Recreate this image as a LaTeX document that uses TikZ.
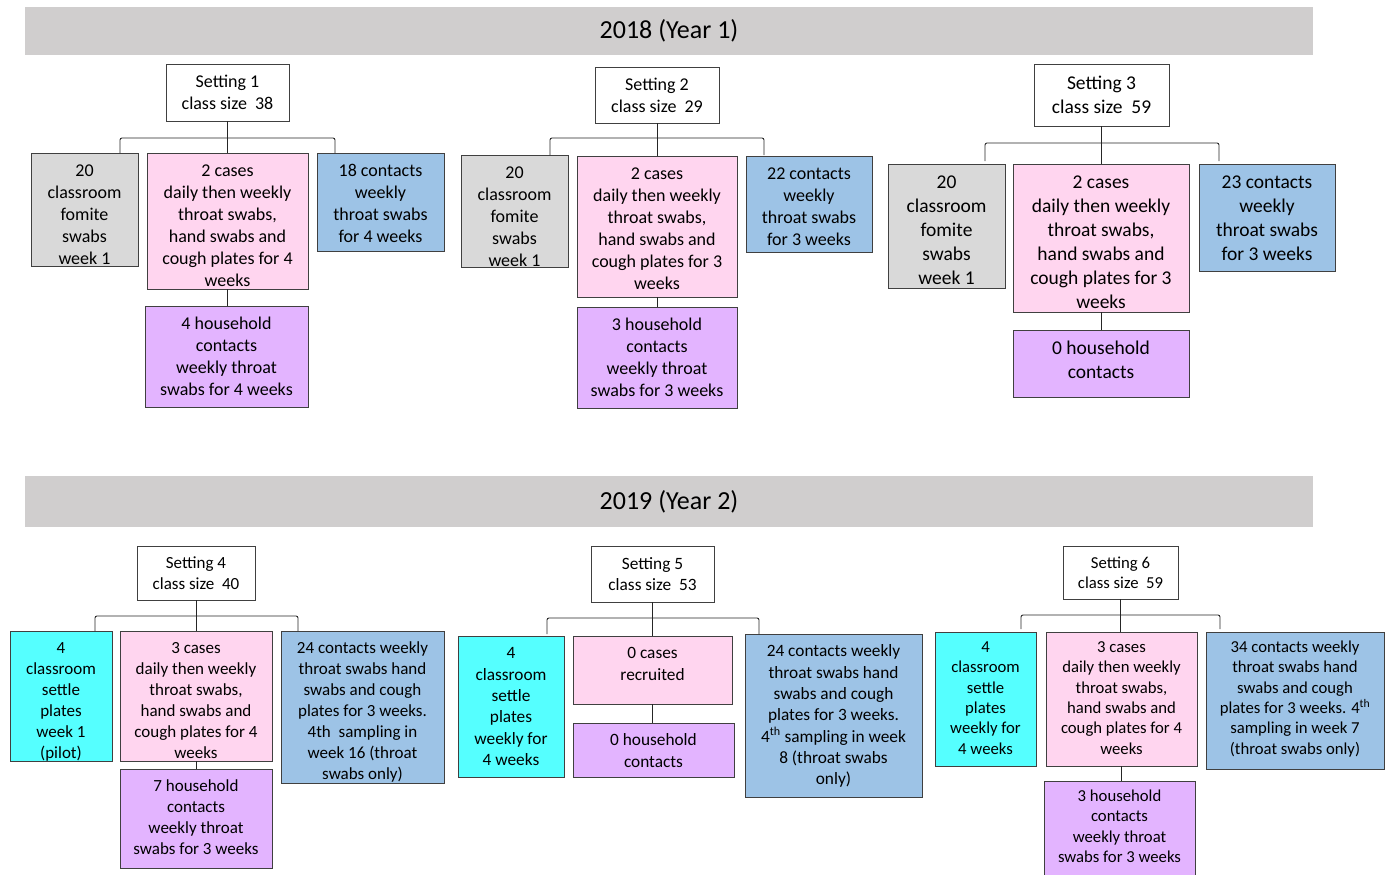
\documentclass[tikz,border=0pt]{standalone}
\usepackage{fontspec}
\setmainfont{Carlito}
\definecolor{bannerg}{HTML}{D0CECE}
\definecolor{grayf}{HTML}{D9D9D9}
\definecolor{pinkf}{HTML}{FFD5EF}
\definecolor{bluef}{HTML}{9DC3E6}
\definecolor{purplef}{HTML}{E3B4FF}
\definecolor{cyanf}{HTML}{55FFFF}
\newcommand\ftop{\fontsize{18}{22}\selectfont}
\newcommand\fthree{\fontsize{19.5}{24}\selectfont}
\newcommand\ffour{\fontsize{17}{21}\selectfont}
\newcommand\ffive{\fontsize{17.3}{21.3}\selectfont}
\newcommand\fsix{\fontsize{16.7}{20.4}\selectfont}
\newcommand\fsixb{\fsix\vspace*{-2pt}}
\tikzset{
  bx/.style={draw=black!75, line width=0.9pt, inner sep=0pt, outer sep=0pt},
  conn/.style={draw=black!85, line width=0.9pt, rounded corners=2pt},
  banner/.style={fill=bannerg, inner sep=0pt, font=\fontsize{26}{30}\selectfont},
}
% name x1 y1 x2 y2 fill font text
\newcommand\mybox[8]{%
  \node[bx, fill=#6] (#1) at ({(#2+#4)/2},{(#3+#5)/2})
  {\parbox[c][\dimexpr #5pt-#3pt\relax][t]{\dimexpr #4pt-#2pt\relax}{#7\centering\vspace*{8pt}\strut #8\par}};}
% name x1 y1 x2 y2 font text
\newcommand\myhdr[7]{%
  \node[bx, fill=white, align=center, font=#6, minimum width=\dimexpr #4pt-#2pt\relax,
        minimum height=\dimexpr #5pt-#3pt\relax] (#1) at ({(#2+#4)/2},{(#3+#5)/2}) {#7};}
\begin{document}
\begin{tikzpicture}[x=1pt,y=-1pt]
\useasboundingbox (0,0) rectangle (1389,875);
% banners
\node[banner, minimum width=1288pt, minimum height=48pt] (yr1) at (669,31) {2018 (Year 1)};
\node[banner, minimum width=1288pt, minimum height=51pt] (yr2) at (669,501.5) {2019 (Year 2)};

% ---------- Setting 1
\myhdr{h1}{166}{64}{289}{121}{\ftop}{Setting 1\\class size\ \ 38}
\mybox{g1}{31}{153}{138}{266}{grayf}{\ftop}{20\\classroom\\fomite\\swabs\\week 1}
\mybox{p1}{147}{153}{308}{289}{pinkf}{\ftop}{2 cases\\daily then weekly\\throat swabs,\\hand swabs and\\cough plates for 4\\weeks}
\mybox{b1}{317}{153}{444}{251}{bluef}{\ftop}{18 contacts\\weekly\\throat swabs\\for 4 weeks}
\mybox{u1}{145}{306}{308}{407}{purplef}{\ftop}{4 household\\contacts\\weekly throat\\swabs for 4 weeks}
\coordinate (l1) at (120,153); \coordinate (r1) at (335,153); \coordinate (m1) at (229,138);
\draw[conn] (l1) |- (m1) -| (r1);
\draw[conn] (h1.south) -- (h1.south |- p1.north);
\draw[conn] (p1.south) -- (p1.south |- u1.north);

% ---------- Setting 2
\myhdr{h2}{595}{67}{719}{123}{\ftop}{Setting 2\\class size\ \ 29}
\mybox{g2}{461}{155}{568}{267}{grayf}{\ftop}{20\\classroom\\fomite\\swabs\\week 1}
\mybox{p2}{577}{156}{737}{297}{pinkf}{\ftop}{2 cases\\daily then weekly\\throat swabs,\\hand swabs and\\cough plates for 3\\weeks}
\mybox{b2}{746}{156}{872}{252}{bluef}{\ftop}{22 contacts\\weekly\\throat swabs\\for 3 weeks}
\mybox{u2}{577}{307}{737}{408}{purplef}{\ftop}{3 household\\contacts\\weekly throat\\swabs for 3 weeks}
\coordinate (l2) at (550,155); \coordinate (r2) at (764,155); \coordinate (m2) at (659,138);
\draw[conn] (l2) |- (m2) -| (r2);
\draw[conn] (h2.south) -- (h2.south |- p2.north);
\draw[conn] (p2.south) -- (p2.south |- u2.north);

% ---------- Setting 3
\myhdr{h3}{1034}{64}{1169}{126}{\fthree}{Setting 3\\class size\ \ 59}
\mybox{g3}{888}{164}{1005}{288}{grayf}{\fthree}{20\\classroom\\fomite\\swabs\\week 1}
\mybox{p3}{1013}{164}{1189}{312}{pinkf}{\fthree}{2 cases\\daily then weekly\\throat swabs,\\hand swabs and\\cough plates for 3\\weeks}
\mybox{b3}{1199}{164}{1335}{271}{bluef}{\fthree}{23 contacts\\weekly\\throat swabs\\for 3 weeks}
\mybox{u3}{1013}{330}{1189}{397}{purplef}{\fthree}{0 household\\contacts}
\coordinate (l3) at (985,161); \coordinate (r3) at (1219,161); \coordinate (m3) at (1104,143);
\draw[conn] (l3) |- (m3) -| (r3);
\draw[conn] (h3.south) -- (h3.south |- p3.north);
\draw[conn] (p3.south) -- (p3.south |- u3.north);

% ---------- Setting 4
\myhdr{h4}{137}{546}{255}{600}{\ffour}{Setting 4\\class size\ \ 40}
\mybox{c4}{10}{631}{112}{761}{cyanf}{\ffour}{4\\classroom\\settle\\plates\\week 1\\(pilot)}
\mybox{p4}{120}{631}{272}{761}{pinkf}{\ffour}{3 cases\\daily then weekly\\throat swabs,\\hand swabs and\\cough plates for 4\\weeks}
\mybox{b4}{281}{631}{444}{783}{bluef}{\ffour}{24 contacts weekly\\throat swabs hand\\swabs and cough\\plates for 3 weeks.\\4th\ \ sampling in\\week 16 (throat\\swabs only)}
\mybox{u4}{120}{769}{272}{868}{purplef}{\ffour}{7 household\\contacts\\weekly throat\\swabs for 3 weeks}
\coordinate (l4) at (95,631); \coordinate (r4) at (298,631); \coordinate (m4) at (198,616);
\draw[conn] (l4) |- (m4) -| (r4);
\draw[conn] (h4.south) -- (h4.south |- p4.north);
\draw[conn] (p4.south) -- (p4.south |- u4.north);

% ---------- Setting 5
\myhdr{h5}{591}{546}{714}{602}{\ffive}{Setting 5\\class size\ \ 53}
\mybox{c5}{458}{636}{564}{777}{cyanf}{\ffive}{4\\classroom\\settle\\plates\\weekly for\\4 weeks}
\mybox{p5}{573}{636}{732}{704}{pinkf}{\ffive}{0 cases\\recruited}
\mybox{u5}{573}{723}{734}{777}{purplef}{\ffive}{0 household\\contacts}
\mybox{b5}{745}{634}{922}{797}{bluef}{\ffive}{24 contacts weekly\\throat swabs hand\\swabs and cough\\plates for 3 weeks.\\4\textsuperscript{th} sampling in week\\8 (throat swabs\\only)}
\coordinate (l5) at (547,634); \coordinate (r5) at (759,634); \coordinate (m5) at (654,618);
\draw[conn] (l5) |- (m5) -| (r5);
\draw[conn] (h5.south) -- (h5.south |- p5.north);
\draw[conn] (p5.south) -- (p5.south |- u5.north);

% ---------- Setting 6
\myhdr{h6}{1063}{546}{1178}{599}{\fsix}{Setting 6\\class size\ \ 59}
\mybox{c6}{935}{632}{1036}{766}{cyanf}{\fsixb}{4\\classroom\\settle\\plates\\weekly for\\4 weeks}
\mybox{p6}{1046}{632}{1197}{766}{pinkf}{\fsixb}{3 cases\\daily then weekly\\throat swabs,\\hand swabs and\\cough plates for 4\\weeks}
\mybox{b6}{1206}{632}{1384}{769}{bluef}{\fsixb}{34 contacts weekly\\throat swabs hand\\swabs and cough\\plates for 3 weeks. 4\textsuperscript{th}\\sampling in week 7\\(throat swabs only)}
\mybox{u6}{1044}{781}{1195}{880}{purplef}{\fsixb}{3 household\\contacts\\weekly throat\\swabs for 3 weeks}
\coordinate (l6) at (1021,629); \coordinate (r6) at (1220,629); \coordinate (m6) at (1124,615);
\draw[conn] (l6) |- (m6) -| (r6);
\draw[conn] (h6.south) -- (h6.south |- p6.north);
\draw[conn] (p6.south) -- (p6.south |- u6.north);
\end{tikzpicture}
\end{document}
